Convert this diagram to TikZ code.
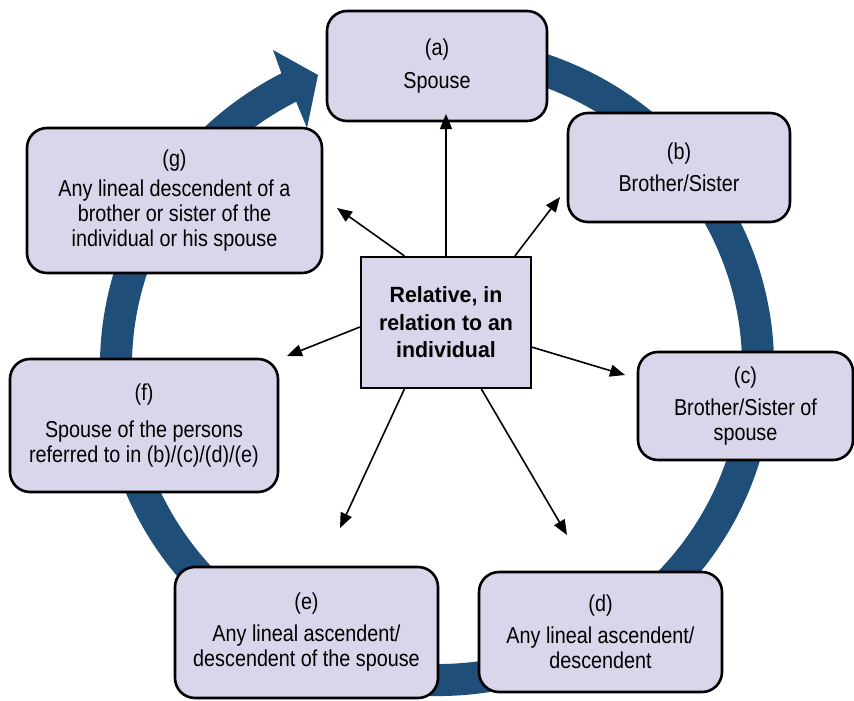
\documentclass[tikz,border=0pt]{standalone}
\usepackage{fontspec}
\setmainfont{Liberation Sans}[FakeStretch=0.86]
\newfontfamily\ctrfont{Liberation Sans}[FakeStretch=0.97]
\usetikzlibrary{arrows.meta}
\definecolor{ringblue}{RGB}{31,78,121}
\definecolor{boxfill}{RGB}{217,213,234}
\begin{document}
\begin{tikzpicture}[x=1pt,y=-1pt,
  box/.style={draw=black, line width=2.6pt, fill=boxfill, rounded corners=20pt,
    align=center, inner sep=0pt, font=\fontsize{23}{25}\selectfont},
  ctrbox/.style={draw=black, line width=2.2pt, fill=boxfill, align=center,
    inner sep=0pt, font=\ctrfont\bfseries\fontsize{22}{27.5}\selectfont},
  link/.style={line width=1.6pt, -{Triangle[length=15pt,width=12pt]}}]
\useasboundingbox (0,0) rectangle (854,701);
% circular arrow
\fill[ringblue, shift={(437,366)}]
  (-80:337 and 330) arc[start angle=-80, end angle=242.5, x radius=337, y radius=330]
  -- (-164,-316) -- (-119,-291) -- (-130,-238)
  -- (242.5:305 and 298) arc[start angle=242.5, end angle=-80, x radius=305, y radius=298]
  -- cycle;
% boxes
\node[box, minimum width=220pt, minimum height=110pt] (a) at (437,66)
  {(a)\\[8pt]Spouse};
\node[box, minimum width=222pt, minimum height=109pt] (b) at (679,167.5)
  {(b)\\[7pt]Brother/Sister};
\node[box, minimum width=215pt, minimum height=108pt] (c) at (745.5,406)
  {(c)\\[7pt]Brother/Sister of\\spouse};
\node[box, minimum width=243pt, minimum height=120pt] (d) at (600.5,632)
  {(d)\\[7pt]Any lineal ascendent/\\descendent};
\node[box, minimum width=263pt, minimum height=131pt] (e) at (306.5,632.5)
  {(e)\\[7pt]Any lineal ascendent/\\descendent of the spouse};
\node[box, minimum width=268pt, minimum height=133pt] (f) at (144,425.5)
  {(f)\\[12pt]Spouse of the persons\\referred to in (b)/(c)/(d)/(e)};
\node[box, minimum width=295pt, minimum height=145pt] (g) at (174.5,200.5)
  {(g)\\[5pt]Any lineal descendent of a\\brother or sister of the\\individual or his spouse};
\node[ctrbox, minimum width=170pt, minimum height=131pt] (ctr) at (446,322.5)
  {Relative, in\\relation to an\\individual};
% arrow tips
\coordinate (ta) at (446,114);
\coordinate (tb) at (560,197);
\coordinate (tc) at (625,375);
\coordinate (td) at (567,535);
\coordinate (te) at (340,528);
\coordinate (tf) at (287,356);
\coordinate (tg) at (337,208);
\draw[link] (ctr.north) -- (ta);
\draw[link] (ctr.44) -- (tb);
\draw[link] (ctr.344) -- (tc);
\draw[link] (ctr.298) -- (td);
\draw[link] (ctr.238) -- (te);
\draw[link] (ctr.183) -- (tf);
\draw[link] (ctr.122) -- (tg);
\end{tikzpicture}
\end{document}
